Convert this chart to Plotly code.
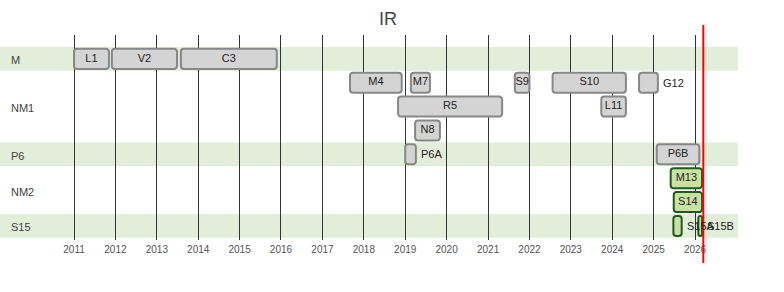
import pandas as pd
import plotly.graph_objects as go

# ---- data ----
task_names = ["L1", "V2", "C3", "M4", "M7", "S9", "S10", "G12", "R5", "L11",
              "N8", "P6A", "P6B", "M13", "S14", "S15A", "S15B"]
task_starts = ["2011-01-01", "2011-12-01", "2013-08-01", "2017-09-01", "2019-02-20",
               "2021-08-25", "2022-07-24", "2024-08-25", "2018-10-30", "2023-09-27",
               "2019-03-29", "2019-01-01", "2025-01-28", "2025-05-31", "2025-06-27",
               "2025-06-24", "2026-01-30"]
task_ends = ["2011-11-05", "2013-06-28", "2015-11-25", "2018-12-01", "2019-08-07",
             "2022-01-01", "2024-05-01", "2025-02-07", "2021-05-05", "2024-05-01",
             "2019-11-03", "2019-04-05", "2026-02-08", "2026-03-04", "2026-03-04",
             "2025-09-05", "2026-03-04"]
task_lane = [0, 0, 0, 1, 1, 1, 1, 1, 2, 2, 3, 4, 4, 5, 6, 7, 7]
task_active = [False] * 13 + [True] * 4
task_label_outside = [False, False, False, False, False, False, False, True, False, False,
                      False, True, False, False, False, True, True]

group_names = ["M", "NM1", "P6", "NM2", "S15"]
group_first_lane = [0, 1, 4, 5, 7]
group_last_lane = [0, 3, 4, 6, 7]
group_shaded = [True, False, True, False, True]

year_ticks = list(range(2011, 2027))
today = "2026-03-15"
title_text = "IR"

# ---- styling ----
GRAY_FILL, GRAY_LINE = "#d4d4d4", "#878787"
GREEN_FILL, GREEN_LINE = "#c9e29f", "#1f5a1f"
BAND = "#e2eed9"
FONT = "Liberation Sans, Arial, sans-serif"

starts = pd.to_datetime(pd.Series(task_starts))
ends = pd.to_datetime(pd.Series(task_ends))
durations_ms = ((ends - starts).dt.total_seconds() * 1000).tolist()
mids = (starts + (ends - starts) / 2)

fig = go.Figure()

for active in (False, True):
    idx = [i for i in range(len(task_names)) if task_active[i] == active]
    fig.add_trace(go.Bar(
        orientation="h",
        y=[task_lane[i] for i in idx],
        base=[task_starts[i] for i in idx],
        x=[durations_ms[i] for i in idx],
        width=0.84,
        marker=dict(color=GREEN_FILL if active else GRAY_FILL,
                    line=dict(color=GREEN_LINE if active else GRAY_LINE, width=2),
                    cornerradius=3),
        hoverinfo="skip",
        showlegend=False,
    ))

# inside labels
inside = [i for i in range(len(task_names)) if not task_label_outside[i]]
fig.add_trace(go.Scatter(
    x=[mids[i] for i in inside], y=[task_lane[i] for i in inside],
    text=[task_names[i] for i in inside], mode="text",
    textposition="middle center",
    textfont=dict(family=FONT, size=11, color="#222222"),
    showlegend=False, hoverinfo="skip",
))

shapes = []
for g in range(len(group_names)):
    if group_shaded[g]:
        shapes.append(dict(type="rect", xref="paper", x0=0, x1=1, yref="y",
                           y0=group_first_lane[g] - 0.5, y1=group_last_lane[g] + 0.5,
                           fillcolor=BAND, line=dict(width=0), layer="below"))
shapes.append(dict(type="line", xref="x", x0=today, x1=today, yref="paper",
                   y0=-0.112, y1=1.049, line=dict(color="#ff0000", width=2)))

annotations = []
for g in range(len(group_names)):
    annotations.append(dict(
        xref="paper", x=9 / 738, xanchor="left",
        yref="y", y=(group_first_lane[g] + group_last_lane[g]) / 2 + 0.06,
        text=group_names[g], showarrow=False,
        font=dict(family=FONT, size=11, color="#444444")))
# outside labels
for i in range(len(task_names)):
    if task_label_outside[i]:
        annotations.append(dict(
            xref="x", x=ends[i], xanchor="left", xshift=3,
            yref="y", y=task_lane[i], yanchor="middle",
            text=task_names[i], showarrow=False,
            font=dict(family=FONT, size=11, color="#222222")))

fig.update_layout(
    width=784, height=292,
    margin=dict(l=0, r=46, t=35, b=52),
    paper_bgcolor="white", plot_bgcolor="rgba(0,0,0,0)",
    barmode="overlay",
    title=dict(text=title_text, x=0.495, xref="container", xanchor="center",
               y=1 - 19 / 292, yref="container", yanchor="middle",
               font=dict(family=FONT, size=18, color="#444444")),
    shapes=shapes, annotations=annotations,
    xaxis=dict(type="date", range=["2009-03-19", "2027-01-15"],
               tickvals=[f"{y}-01-01" for y in year_ticks],
               ticktext=[str(y) for y in year_ticks],
               showgrid=True, gridcolor="#333333", gridwidth=1,
               zeroline=False, showline=False, ticks="",
               ticklabelstandoff=2,
               tickfont=dict(family=FONT, size=10, color="#555555"),
               fixedrange=True),
    yaxis=dict(range=[7.59, -1.0], showgrid=False, zeroline=False,
               showticklabels=False, showline=False, fixedrange=True),
    font=dict(family=FONT),
)

fig.write_html("out.html")
